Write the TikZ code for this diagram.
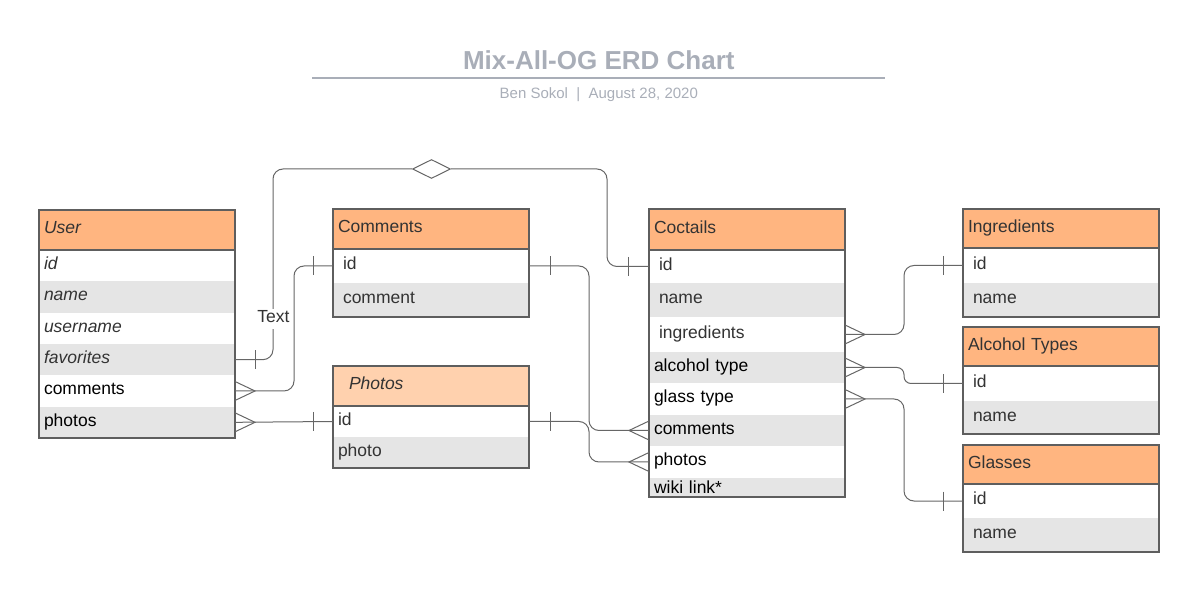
\documentclass[tikz,border=0pt]{standalone}
\usepackage{fontspec}
\setmainfont{Liberation Sans}
\usetikzlibrary{calc,shapes.geometric}
\definecolor{hdrc}{HTML}{FFB580}
\definecolor{hdrl}{HTML}{FFD1AE}
\definecolor{rowg}{HTML}{E5E5E5}
\definecolor{bordc}{HTML}{5E5E5E}
\definecolor{linec}{HTML}{666666}
\definecolor{txtc}{HTML}{333333}
\definecolor{titc}{HTML}{A9AEB8}
\newcommand\fsz{\fontsize{17.5}{20}\selectfont}
\newcommand\tblbox[2]{\draw[tbl] (#1.north west) rectangle (#2.south east); \draw[tbl] (#1.south west) -- (#1.south east);}
\newcommand\crowR[1]{\draw[conn] ($(#1)+(0,-9.5)$) -- ($(#1)+(20,0)$) -- ($(#1)+(0,9.5)$);}
\newcommand\crowL[1]{\draw[conn] ($(#1)+(0,-9.5)$) -- ($(#1)+(-20,0)$) -- ($(#1)+(0,9.5)$);}
\newcommand\tickat[2]{\draw[conn] ($(#1)+(#2,-9.5)$) -- ($(#1)+(#2,9.5)$);}
\tikzset{
 cell/.style={anchor=north west, outer sep=0pt, inner ysep=0pt, inner xsep=5pt, text width=186pt, align=left, text height=12pt, text depth=4.5pt, font=\fsz, text=txtc},
 hd/.style={cell, fill=hdrc},
 wr/.style={cell, fill=white},
 gr/.style={cell, fill=rowg},
 ind/.style={inner xsep=10pt, text width=176pt},
 blk/.style={text=black},
 it/.style={font=\fsz\itshape},
 tbl/.style={draw=bordc, line width=1.1pt},
 conn/.style={draw=linec, line width=1pt},
}
\begin{document}
\begin{tikzpicture}[x=1pt,y=-1pt]
\useasboundingbox (0,0) rectangle (1200,593);
% title
\node[anchor=base, font=\fontsize{26}{30}\selectfont\bfseries, text=titc, inner sep=0pt] (title) at (598.8,69.3) {Mix-All-OG ERD Chart};
\draw[titc, line width=2pt] (312,78) -- (885,78);
\node[anchor=base, font=\fontsize{15}{18}\selectfont, text=titc, inner sep=0pt] (sub) at (598.8,99) {Ben Sokol\ \ |\ \ August 28, 2020};

% User
\node[hd,it,minimum height=40pt] (user-h) at (39,210) {User};
\node[wr,it,minimum height=31.33pt] (user-id) at (user-h.south west) {id};
\node[gr,it,minimum height=31.33pt] (user-name) at (user-id.south west) {name};
\node[wr,it,minimum height=31.33pt] (user-uname) at (user-name.south west) {username};
\node[gr,it,minimum height=31.33pt] (user-fav) at (user-uname.south west) {favorites};
\node[wr,blk,minimum height=31.33pt] (user-comments) at (user-fav.south west) {comments};
\node[gr,blk,minimum height=31.33pt] (user-photos) at (user-comments.south west) {photos};
\tblbox{user-h}{user-photos}

% Comments
\node[hd,minimum height=40pt] (com-h) at (333,209) {Comments};
\node[wr,ind,minimum height=34pt] (com-id) at (com-h.south west) {id};
\node[gr,ind,minimum height=34pt] (com-comment) at (com-id.south west) {comment};
\tblbox{com-h}{com-comment}

% Photos
\node[hd,it,fill=hdrl,inner xsep=16pt,text width=164pt,minimum height=40pt] (pho-h) at (333,366) {Photos};
\node[wr,minimum height=31pt] (pho-id) at (pho-h.south west) {id};
\node[gr,minimum height=31pt] (pho-photo) at (pho-id.south west) {photo};
\tblbox{pho-h}{pho-photo}

% Coctails
\node[hd,minimum height=41pt] (coc-h) at (649,209) {Coctails};
\node[wr,ind,minimum height=33pt] (coc-id) at (coc-h.south west) {id};
\node[gr,ind,minimum height=34pt] (coc-name) at (coc-id.south west) {name};
\node[wr,ind,minimum height=35pt] (coc-ingr) at (coc-name.south west) {ingredients};
\node[gr,blk,minimum height=31pt] (coc-alc) at (coc-ingr.south west) {alcohol type};
\node[wr,blk,minimum height=32pt] (coc-glass) at (coc-alc.south west) {glass type};
\node[gr,blk,minimum height=31pt] (coc-comments) at (coc-glass.south west) {comments};
\node[wr,blk,minimum height=32pt] (coc-photos) at (coc-comments.south west) {photos};
\node[gr,blk,minimum height=19pt,text height=12pt,text depth=0pt] (coc-wiki) at (coc-photos.south west) {wiki link*};
\tblbox{coc-h}{coc-wiki}

% Ingredients
\node[hd,minimum height=39pt] (ing-h) at (963,209) {Ingredients};
\node[wr,ind,minimum height=35pt] (ing-id) at (ing-h.south west) {id};
\node[gr,ind,minimum height=34pt] (ing-name) at (ing-id.south west) {name};
\tblbox{ing-h}{ing-name}

% Alcohol Types
\node[hd,minimum height=39pt] (alc-h) at (963,327) {Alcohol Types};
\node[wr,ind,minimum height=35pt] (alc-id) at (alc-h.south west) {id};
\node[gr,ind,minimum height=33pt] (alc-name) at (alc-id.south west) {name};
\tblbox{alc-h}{alc-name}

% Glasses
\node[hd,minimum height=39pt] (gla-h) at (963,445) {Glasses};
\node[wr,ind,minimum height=34pt] (gla-id) at (gla-h.south west) {id};
\node[gr,ind,minimum height=34pt] (gla-name) at (gla-id.south west) {name};
\tblbox{gla-h}{gla-name}

% connectors
\node[diamond, draw=linec, line width=1pt, fill=white, minimum width=38pt, minimum height=19pt, inner sep=0pt] (diam) at (431.5,169) {};
\draw[conn, rounded corners=10] (user-fav.east) -- ++(38,0) |- (diam.west);
\draw[conn, rounded corners=10] (diam.east) -| ($(coc-id.west)+(-42,0)$) -- (coc-id.west);
\tickat{user-fav.east}{20}
\tickat{coc-id.west}{-21}
\node[fill=white, font=\fsz, text=txtc, inner sep=2pt, text depth=4.5pt, anchor=base] (lbl) at (273.5,323) {Text};

\draw[conn, rounded corners=10] (user-comments.east) -- ++(59,0) |- (com-id.west);
\crowR{user-comments.east}
\tickat{com-id.west}{-20}

\draw[conn] (user-photos.east) -- (pho-id.west);
\crowR{user-photos.east}
\tickat{pho-id.west}{-20}

\draw[conn, rounded corners=10] (com-id.east) -- ++(60,0) |- (coc-comments.west);
\tickat{com-id.east}{21}
\crowL{coc-comments.west}

\draw[conn, rounded corners=10] (pho-id.east) -- ++(60,0) |- (coc-photos.west);
\tickat{pho-id.east}{21}
\crowL{coc-photos.west}

\draw[conn, rounded corners=10] (coc-ingr.east) -- ++(59,0) |- (ing-id.west);
\crowR{coc-ingr.east}
\tickat{ing-id.west}{-20}

\draw[conn, rounded corners=7] (coc-alc.east) -- ++(59,0) |- (alc-id.west);
\crowR{coc-alc.east}
\tickat{alc-id.west}{-20}

\draw[conn, rounded corners=10] (coc-glass.east) -- ++(59,0) |- (gla-id.west);
\crowR{coc-glass.east}
\tickat{gla-id.west}{-20}
\end{tikzpicture}
\end{document}
